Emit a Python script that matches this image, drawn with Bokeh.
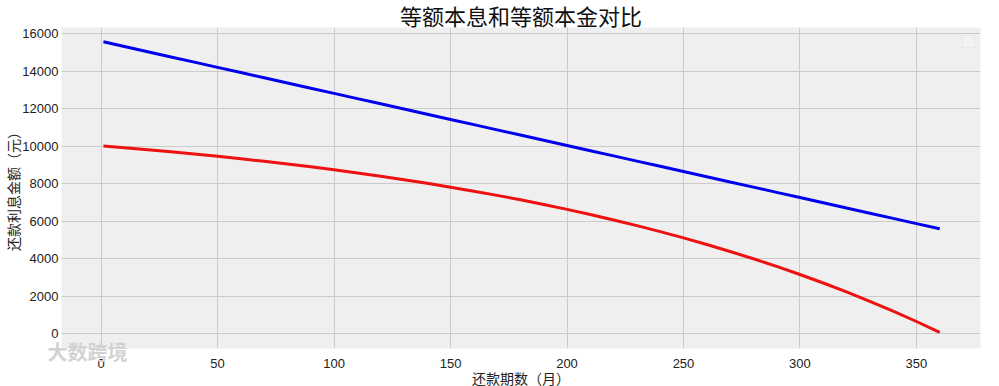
from bokeh.plotting import figure
from bokeh.models import Title, BoxAnnotation, FixedTicker, Range1d
from bokeh.embed import file_html
from bokeh.resources import INLINE

months = [1, 10, 20, 30, 40, 50, 60, 70, 80, 90, 100, 110, 120, 130, 140, 150, 160, 170, 180,
          190, 200, 210, 220, 230, 240, 250, 260, 270, 280, 290, 300, 310, 320, 330, 340, 350, 360]
equal_principal = [15556, 15306, 15028, 14750, 14472, 14194, 13917, 13639, 13361, 13083, 12806,
                   12528, 12250, 11972, 11694, 11417, 11139, 10861, 10583, 10306, 10028, 9750,
                   9472, 9194, 8917, 8639, 8361, 8083, 7806, 7528, 7250, 6972, 6694, 6417, 6139,
                   5861, 5583]
equal_installment = [10000, 9909, 9802, 9690, 9572, 9449, 9319, 9182, 9038, 8888, 8729, 8562,
                     8387, 8202, 8009, 7805, 7591, 7366, 7129, 6881, 6619, 6345, 6056, 5752, 5433,
                     5098, 4745, 4375, 3985, 3576, 3145, 2693, 2217, 1717, 1192, 640, 59]
x_ticks = [0, 50, 100, 150, 200, 250, 300, 350]
y_ticks = [0, 2000, 4000, 6000, 8000, 10000, 12000, 14000, 16000]

FONT = "Noto Sans CJK SC"
NUMFONT = "Liberation Sans"

p = figure(frame_width=919, frame_height=321, output_backend="svg", toolbar_location=None,
           x_range=Range1d(-17, 377.5), y_range=Range1d(-800, 16320),
           title="等额本息和等额本金对比")
p.min_border_left = 0
p.min_border_right = 9
p.min_border_top = 0
p.min_border_bottom = 0
p.outline_line_color = None
p.background_fill_color = "#efefef"
p.border_fill_color = "white"

p.title.align = "center"
p.title.text_font = FONT
p.title.text_font_style = "normal"
p.title.text_font_size = "22px"
p.title.text_color = "#111111"
p.title.standoff = -7

for ax in (p.xaxis[0], p.yaxis[0]):
    ax.axis_line_color = None
    ax.major_tick_line_color = None
    ax.minor_tick_line_color = None
    ax.major_tick_out = 0
    ax.major_tick_in = 0
    ax.major_label_text_font = NUMFONT
    ax.major_label_text_font_size = "13px"
    ax.major_label_text_color = "#222222"
    ax.axis_label_text_font = FONT
    ax.axis_label_text_font_size = "14px"
    ax.axis_label_text_font_style = "normal"
    ax.axis_label_text_color = "#222222"

p.xaxis.ticker = FixedTicker(ticks=x_ticks)
p.yaxis.ticker = FixedTicker(ticks=y_ticks)
p.xaxis.axis_label = "还款期数（月）"
p.yaxis.axis_label = "还款利息金额（元）"
p.xaxis.major_label_standoff = 2
p.xaxis.axis_label_standoff = -3
p.yaxis.major_label_standoff = 3
p.yaxis.axis_label_standoff = -4

p.grid.grid_line_color = "#cbcbcb"
p.grid.grid_line_width = 1

p.line(months, equal_principal, line_color="#0000ee", line_width=3)
p.line(months, equal_installment, line_color="#ee1111", line_width=3)

# empty legend box
p.add_layout(BoxAnnotation(left=901, right=913, bottom=301, top=313,
                           left_units="screen", right_units="screen",
                           top_units="screen", bottom_units="screen",
                           fill_color="#f3f3f3", fill_alpha=1,
                           line_color="#d6d6d6", line_width=1))

# watermark (bottom-left, just below the frame, beneath the tick labels)
watermark = Title(text="大数跨境", align="left", vertical_align="top", offset=-14,
                  standoff=-23, text_font=FONT, text_font_size="20px",
                  text_font_style="bold", text_color="#d2d2d2")
p.below = [watermark] + list(p.below)

open("out.html", "w").write(file_html(p, INLINE))
